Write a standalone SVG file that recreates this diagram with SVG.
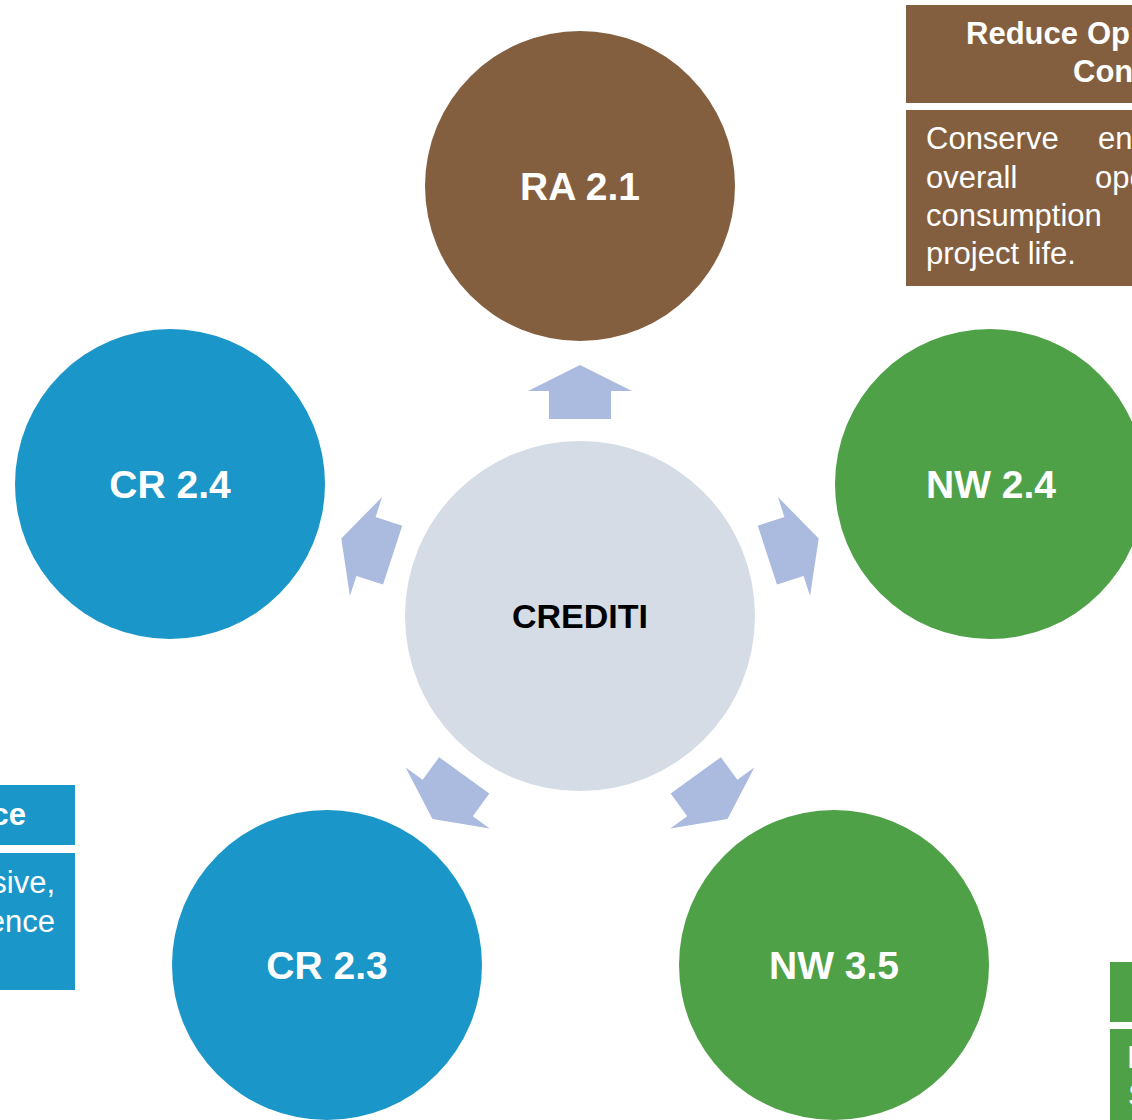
<svg xmlns="http://www.w3.org/2000/svg" width="1132" height="1120" viewBox="0 0 1132 1120">
<defs>
<style>
.lbl{font-family:"Liberation Sans",Arial,sans-serif;font-weight:bold;font-size:39px;fill:#fff;text-anchor:middle}
.ctr{font-family:"Liberation Sans",Arial,sans-serif;font-weight:bold;font-size:34px;fill:#000;text-anchor:middle}
.hd{font-family:"Liberation Sans",Arial,sans-serif;font-weight:bold;font-size:31px;fill:#fff}
.bd{font-family:"Liberation Sans",Arial,sans-serif;font-size:31px;fill:#fff}
.arr{fill:#ABBADF}
.brown{fill:#845F3F}
.blue{fill:#1B96C9}
.green{fill:#4EA147}
</style>
<polygon id="arrow" points="0,-251 52,-225 31,-225 31,-197 -31,-197 -31,-225 -52,-225"/>
</defs>
<rect width="1132" height="1120" fill="#fff"/>

<g id="box-ra">
<rect class="brown" x="906" y="5" width="260" height="98"/>
<rect class="brown" x="906" y="110" width="260" height="176"/>
<text class="hd" y="44"><tspan x="966">Reduce</tspan><tspan x="1087">Op</tspan></text>
<text class="hd" x="1073" y="82">Con</text>
<text class="bd" y="149"><tspan x="926">Conserve</tspan><tspan x="1098">en</tspan></text>
<text class="bd" y="188"><tspan x="926">overall</tspan><tspan x="1095">ope</tspan></text>
<text class="bd" x="926" y="226">consumption</text>
<text class="bd" x="926" y="264">project life.</text>
</g>

<g id="box-cr">
<rect class="blue" x="-20" y="785" width="95" height="60"/>
<rect class="blue" x="-20" y="853" width="95" height="137"/>
<text class="hd" x="26" y="825" text-anchor="end">ce</text>
<text class="bd" x="55" y="893" text-anchor="end">sive,</text>
<text class="bd" x="55" y="932" text-anchor="end">ence</text>
</g>

<g id="box-nw">
<rect class="green" x="1110" y="962" width="60" height="60"/>
<rect class="green" x="1110" y="1029" width="60" height="120"/>
<text class="bd" x="1127" y="1068">E</text>
<text class="bd" x="1128" y="1106">S</text>
</g>

<g id="connectors">
<use href="#arrow" class="arr" transform="translate(580,616)"/>
<use href="#arrow" class="arr" transform="translate(580,616) rotate(72)"/>
<use href="#arrow" class="arr" transform="translate(580,616) rotate(144)"/>
<use href="#arrow" class="arr" transform="translate(580,616) rotate(216)"/>
<use href="#arrow" class="arr" transform="translate(580,616) rotate(288)"/>
</g>

<g id="center">
<circle cx="580" cy="616" r="175" fill="#D5DCE6"/>
<text class="ctr" x="580" y="628">CREDITI</text>
</g>

<g id="ra21">
<circle class="brown" cx="580" cy="186" r="155"/>
<text class="lbl" x="580" y="200">RA 2.1</text>
</g>

<g id="nw24">
<circle class="green" cx="990" cy="484" r="155"/>
<text class="lbl" x="991" y="498">NW 2.4</text>
</g>

<g id="nw35">
<circle class="green" cx="834" cy="965" r="155"/>
<text class="lbl" x="834" y="979">NW 3.5</text>
</g>

<g id="cr23">
<circle class="blue" cx="327" cy="965" r="155"/>
<text class="lbl" x="327" y="979">CR 2.3</text>
</g>

<g id="cr24">
<circle class="blue" cx="170" cy="484" r="155"/>
<text class="lbl" x="170" y="498">CR 2.4</text>
</g>
</svg>
